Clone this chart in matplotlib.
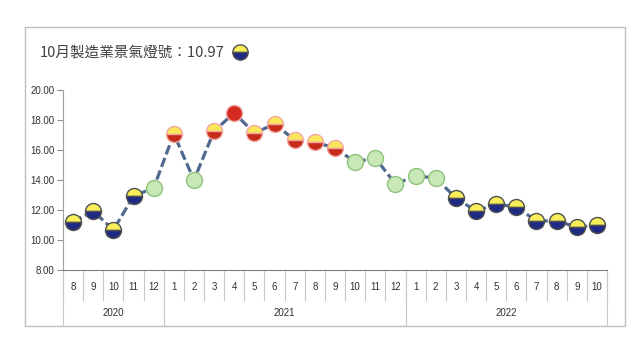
import matplotlib.pyplot as plt
from matplotlib.patches import Rectangle
import matplotlib.transforms as mtransforms

plt.rcParams['font.family'] = ['Liberation Sans', 'DejaVu Sans']

# 月份 / 年份 / 分數 / 燈號
months = [8, 9, 10, 11, 12,
          1, 2, 3, 4, 5, 6, 7, 8, 9, 10, 11, 12,
          1, 2, 3, 4, 5, 6, 7, 8, 9, 10]
years = ['2020', '2021', '2022']
year_counts = [5, 12, 10]
scores = [11.2, 11.93, 10.67, 12.93, 13.47,
          17.07, 14.0, 17.27, 18.47, 17.13, 17.73, 16.67, 16.53, 16.13, 15.2, 15.47, 13.73,
          14.27, 14.13, 12.8, 11.93, 12.4, 12.2, 11.27, 11.27, 10.87, 10.97]
lights = ['yb', 'yb', 'yb', 'yb', 'g',
          'yr', 'g', 'yr', 'r', 'yr', 'yr', 'yr', 'yr', 'yr', 'g', 'g', 'g',
          'g', 'g', 'yb', 'yb', 'yb', 'yb', 'yb', 'yb', 'yb', 'yb']
yticks = [8, 10, 12, 14, 16, 18, 20]

# 燈號樣式
light_style = {
    'yb': dict(fillstyle='top', markerfacecolor='#f7ee5a', markerfacecoloralt='#1f2a85',
               markeredgecolor='#505050'),
    'yr': dict(fillstyle='top', markerfacecolor='#f8e85a', markerfacecoloralt='#c62a1a',
               markeredgecolor='#f2a8a0'),
    'r': dict(fillstyle='full', markerfacecolor='#d42a20', markeredgecolor='#f0a0a0'),
    'g': dict(fillstyle='full', markerfacecolor='#c8e8b8', markeredgecolor='#8cc47a'),
}

fig = plt.figure(figsize=(6.4, 3.6), dpi=100)
fig.patches.append(Rectangle((25 / 640, 1 - 326 / 360), 600 / 640, 299 / 360,
                             transform=fig.transFigure, fill=False,
                             edgecolor='#c0c0c0', linewidth=1))

ax = fig.add_axes([63 / 640, 0.25, 544 / 640, 0.5])
x = list(range(len(scores)))
ax.plot(x, scores, color='#51698e', linewidth=2.3, linestyle=(0, (3, 1.2)), zorder=2)
for xi, yi, lt in zip(x, scores, lights):
    ax.plot(xi, yi, marker='o', markersize=11.5, markeredgewidth=1.0,
            linestyle='none', zorder=3, **light_style[lt])

ax.set_xlim(-0.5, len(scores) - 0.5)
ax.set_ylim(8, 20)
ax.set_yticks(yticks)
ax.set_yticklabels(['%.2f' % v for v in yticks], fontsize=7, color='#303030')
ax.tick_params(axis='y', length=4, color='#909090', pad=2)
ax.set_xticks([])
for s in ['top', 'right']:
    ax.spines[s].set_visible(False)
ax.spines['left'].set_color('#a0a0a0')
ax.spines['bottom'].set_color('#808080')

# 分類軸（月份 / 年份）
trans = mtransforms.blended_transform_factory(ax.transData, ax.transAxes)
for xi, m in zip(x, months):
    ax.text(xi, -0.094, str(m), transform=trans, ha='center', va='center',
            fontsize=7, color='#303030')
for i in range(len(scores) + 1):
    ax.plot([i - 0.5, i - 0.5], [0, -0.167], transform=trans, color='#c8c8c8',
            linewidth=0.8, clip_on=False)
start = 0
for yr, n in zip(years, year_counts):
    ax.text(start + n / 2 - 0.5, -0.239, yr, transform=trans, ha='center', va='center',
            fontsize=7, color='#303030')
    ax.plot([start - 0.5, start - 0.5], [0, -0.305], transform=trans, color='#c8c8c8',
            linewidth=0.8, clip_on=False)
    start += n
ax.plot([start - 0.5, start - 0.5], [0, -0.305], transform=trans, color='#c8c8c8',
        linewidth=0.8, clip_on=False)

# 標題
fig.text(40 / 640, 1 - 53 / 360, '10月製造業景氣燈號：10.97', fontsize=10.5,
         family=['Noto Sans CJK TC', 'DejaVu Sans'], color='#404040', va='center')
fig.lines.append(plt.Line2D([240 / 640], [1 - 52 / 360], transform=fig.transFigure,
                            marker='o', markersize=11, markeredgewidth=1.0,
                            linestyle='none', **light_style['yb']))

fig.savefig('out.png', dpi=100)
